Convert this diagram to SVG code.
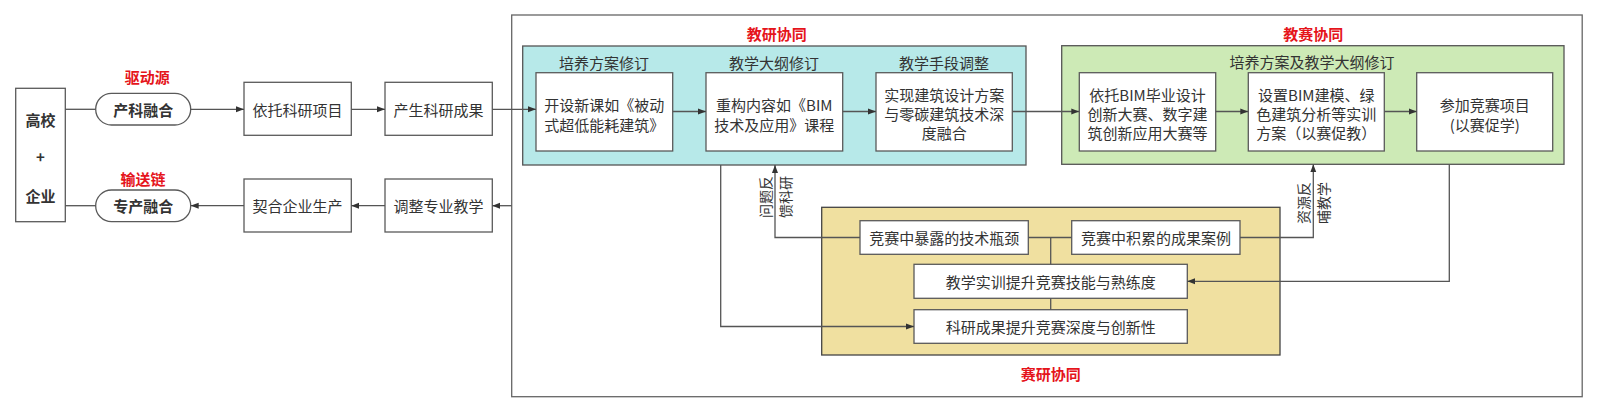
<svg xmlns="http://www.w3.org/2000/svg" width="1598" height="413" viewBox="0 0 1598 413">
<style>
text{font-family:"Noto Sans CJK SC","Liberation Sans",sans-serif;fill:#333;font-size:15px;text-anchor:middle;dominant-baseline:central}
.b{font-weight:700}
.red{fill:#e5141b;font-weight:700}
.box{fill:#fff;stroke:#5a5a5a;stroke-width:1.3}
.frame{fill:none;stroke:#666;stroke-width:1.3}
.ln{fill:none;stroke:#555;stroke-width:1.3}
.sub{font-size:15px}
.small{font-size:14px}
</style>
<defs>
<marker id="arr" viewBox="0 0 10 10" refX="10" refY="5" markerWidth="8" markerHeight="8" markerUnits="userSpaceOnUse" orient="auto">
<path d="M0,1.2 L10,5 L0,8.8 z" fill="#333"/>
</marker>
</defs>
<rect class="frame" x="511.7" y="15" width="1070.5" height="381.7"/>
<g id="group-jiaoyan">
<rect x="522.7" y="46" width="503.3" height="119" fill="#b7e9e9" stroke="#555" stroke-width="1.3"/>
<text class="red" x="776.7" y="33.3">教研协同</text>
<text class="sub" x="604" y="62.7">培养方案修订</text>
<text class="sub" x="774" y="62.7">教学大纲修订</text>
<text class="sub" x="944" y="62.7">教学手段调整</text>
</g>
<g id="group-jiaosai">
<rect x="1061.7" y="45.7" width="502.3" height="118.6" fill="#cdeab6" stroke="#555" stroke-width="1.3"/>
<text class="red" x="1313.3" y="33.3">教赛协同</text>
<text class="sub" x="1312" y="61.7">培养方案及教学大纲修订</text>
</g>
<g id="group-saiyan">
<rect x="821.7" y="207.3" width="458.3" height="147.7" fill="#f0e0a0" stroke="#444" stroke-width="1.3"/>
<text class="red" x="1050.7" y="373.3">赛研协同</text>
</g>
<g id="n-gaoxiao">
<rect class="box" x="15.7" y="88.3" width="49.6" height="133.4"/>
<text class="b" x="40.5" y="119">高校</text>
<text class="b" x="40.5" y="156.7">+</text>
<text class="b" x="40.5" y="195">企业</text>
</g>
<g id="n-chanke">
<rect class="box" x="95.7" y="93.3" width="95" height="31.7" rx="15.8"/>
<text class="b" x="143.2" y="109.3">产科融合</text>
<text class="red" x="147.3" y="76.7">驱动源</text>
</g>
<g id="n-zhuanchan">
<rect class="box" x="95.7" y="190" width="95" height="31.7" rx="15.8"/>
<text class="b" x="143.2" y="205.8">专产融合</text>
<text class="red" x="143" y="178.3">输送链</text>
</g>
<g id="n-yituo">
<rect class="box" x="244" y="82.3" width="107.3" height="53"/>
<text x="297.6" y="109">依托科研项目</text>
</g>
<g id="n-chansheng">
<rect class="box" x="385" y="82.3" width="107.3" height="53"/>
<text x="438.6" y="109">产生科研成果</text>
</g>
<g id="n-qihe">
<rect class="box" x="244" y="179" width="107.3" height="53"/>
<text x="297.6" y="205.7">契合企业生产</text>
</g>
<g id="n-tiaozheng">
<rect class="box" x="385" y="179" width="107.3" height="53"/>
<text x="438.6" y="205.7">调整专业教学</text>
</g>
<g id="n-kaishe">
<rect class="box" x="536" y="72.7" width="136.7" height="78.3"/>
<text x="604.3" y="104">开设新课如《被动</text>
<text x="604.3" y="124">式超低能耗建筑》</text>
</g>
<g id="n-chonggou">
<rect class="box" x="706" y="72.7" width="136.7" height="78.3"/>
<text x="774.3" y="104">重构内容如《BIM</text>
<text x="774.3" y="124">技术及应用》课程</text>
</g>
<g id="n-shixian">
<rect class="box" x="876" y="72.7" width="136.3" height="78.3"/>
<text x="944.2" y="94.3">实现建筑设计方案</text>
<text x="944.2" y="113.3">与零碳建筑技术深</text>
<text x="944.2" y="132.3">度融合</text>
</g>
<g id="n-yituobim">
<rect class="box" x="1079.3" y="72.7" width="136.4" height="78.3"/>
<text x="1147.5" y="94.3">依托BIM毕业设计</text>
<text x="1147.5" y="113.3">创新大赛、数字建</text>
<text x="1147.5" y="132.3">筑创新应用大赛等</text>
</g>
<g id="n-shezhi">
<rect class="box" x="1248.3" y="72.7" width="136" height="78.3"/>
<text x="1316.3" y="94.3">设置BIM建模、绿</text>
<text x="1316.3" y="113.3">色建筑分析等实训</text>
<text x="1316.3" y="132.3">方案（以赛促教）</text>
</g>
<g id="n-canjia">
<rect class="box" x="1416.7" y="72.7" width="136" height="78.3"/>
<text x="1484.7" y="104">参加竞赛项目</text>
<text x="1484.7" y="124">(以赛促学)</text>
</g>
<g id="n-pingjing">
<rect class="box" x="860" y="220.7" width="168.3" height="33.6"/>
<text x="944.2" y="237.5">竞赛中暴露的技术瓶颈</text>
</g>
<g id="n-jilei">
<rect class="box" x="1071.7" y="220.7" width="168.3" height="33.6"/>
<text x="1155.9" y="237.5">竞赛中积累的成果案例</text>
</g>
<g id="n-shixun">
<rect class="box" x="914" y="264.3" width="273.3" height="34"/>
<text x="1050.7" y="281.3">教学实训提升竞赛技能与熟练度</text>
</g>
<g id="n-keyan">
<rect class="box" x="914" y="309.7" width="273.3" height="33.6"/>
<text x="1050.7" y="326.5">科研成果提升竞赛深度与创新性</text>
</g>
<g id="connectors">
<path class="ln" d="M65.3,109.3 H95.7"/>
<path class="ln" d="M190.7,109.3 H244" marker-end="url(#arr)"/>
<path class="ln" d="M351.3,109.3 H385" marker-end="url(#arr)"/>
<path class="ln" d="M492.3,109.3 H536" marker-end="url(#arr)"/>
<path class="ln" d="M672.7,111.5 H706" marker-end="url(#arr)"/>
<path class="ln" d="M842.7,111.5 H876" marker-end="url(#arr)"/>
<path class="ln" d="M1012.3,111.5 H1079.3" marker-end="url(#arr)"/>
<path class="ln" d="M1215.7,111.5 H1248.3" marker-end="url(#arr)"/>
<path class="ln" d="M1384.3,111.5 H1416.7" marker-end="url(#arr)"/>
<path class="ln" d="M511.7,205.7 H492.3" marker-end="url(#arr)"/>
<path class="ln" d="M385,205.7 H351.3" marker-end="url(#arr)"/>
<path class="ln" d="M244,205.7 H190.7" marker-end="url(#arr)"/>
<path class="ln" d="M95.7,205.7 H65.3"/>
<path class="ln" d="M720.7,165 V326.5 H914" marker-end="url(#arr)"/>
<path class="ln" d="M860,237.5 H775 V165" marker-end="url(#arr)"/>
<path class="ln" d="M1028.3,237.5 H1071.7"/>
<path class="ln" d="M1050.7,237.5 V264.3"/>
<path class="ln" d="M1050.7,298.3 V309.7"/>
<path class="ln" d="M1240,237.5 H1313.3 V164.3" marker-end="url(#arr)"/>
<path class="ln" d="M1449.3,164.3 V281.3 H1187.3" marker-end="url(#arr)"/>
<text class="small" transform="translate(775,197) rotate(-90)"><tspan x="0" y="-10">问题反</tspan><tspan x="0" y="10">馈科研</tspan></text>
<text class="small" transform="translate(1313,203) rotate(-90)"><tspan x="0" y="-10">资源反</tspan><tspan x="0" y="10">哺教学</tspan></text>
</g>
</svg>
